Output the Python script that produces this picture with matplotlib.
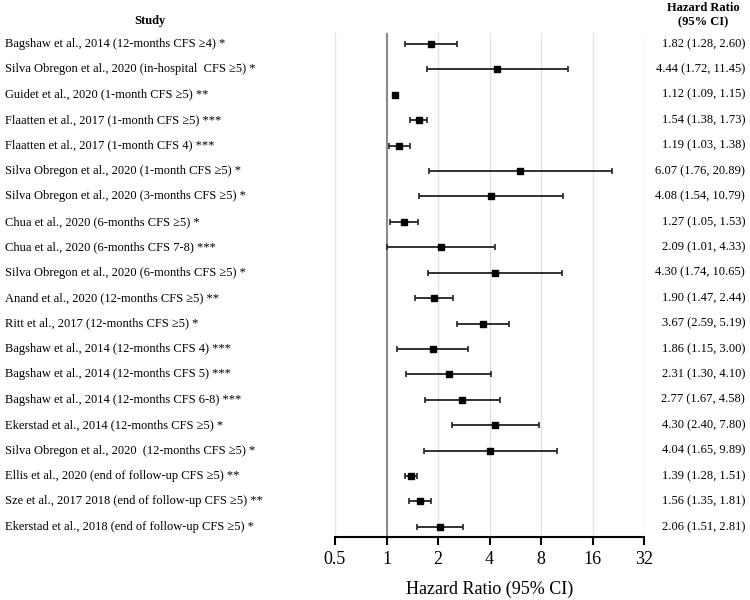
import matplotlib.pyplot as plt
import matplotlib.transforms as mtransforms
import numpy as np

plt.rcParams['font.family'] = ['Liberation Serif', 'DejaVu Serif']

# Data
studies = [
    'Bagshaw et al., 2014 (12-months CFS ≥4) *',
    'Silva Obregon et al., 2020 (in-hospital  CFS ≥5) *',
    'Guidet et al., 2020 (1-month CFS ≥5) **',
    'Flaatten et al., 2017 (1-month CFS ≥5) ***',
    'Flaatten et al., 2017 (1-month CFS 4) ***',
    'Silva Obregon et al., 2020 (1-month CFS ≥5) *',
    'Silva Obregon et al., 2020 (3-months CFS ≥5) *',
    'Chua et al., 2020 (6-months CFS ≥5) *',
    'Chua et al., 2020 (6-months CFS 7-8) ***',
    'Silva Obregon et al., 2020 (6-months CFS ≥5) *',
    'Anand et al., 2020 (12-months CFS ≥5) **',
    'Ritt et al., 2017 (12-months CFS ≥5) *',
    'Bagshaw et al., 2014 (12-months CFS 4) ***',
    'Bagshaw et al., 2014 (12-months CFS 5) ***',
    'Bagshaw et al., 2014 (12-months CFS 6-8) ***',
    'Ekerstad et al., 2014 (12-months CFS ≥5) *',
    'Silva Obregon et al., 2020  (12-months CFS ≥5) *',
    'Ellis et al., 2020 (end of follow-up CFS ≥5) **',
    'Sze et al., 2017 2018 (end of follow-up CFS ≥5) **',
    'Ekerstad et al., 2018 (end of follow-up CFS ≥5) *',
]
hr = [1.82, 4.44, 1.12, 1.54, 1.19, 6.07, 4.08, 1.27, 2.09, 4.30,
      1.90, 3.67, 1.86, 2.31, 2.77, 4.30, 4.04, 1.39, 1.56, 2.06]
ci_low = [1.28, 1.72, 1.09, 1.38, 1.03, 1.76, 1.54, 1.05, 1.01, 1.74,
          1.47, 2.59, 1.15, 1.30, 1.67, 2.40, 1.65, 1.28, 1.35, 1.51]
ci_high = [2.60, 11.45, 1.15, 1.73, 1.38, 20.89, 10.79, 1.53, 4.33, 10.65,
           2.44, 5.19, 3.00, 4.10, 4.58, 7.80, 9.89, 1.51, 1.81, 2.81]
ticks = [0.5, 1, 2, 4, 8, 16, 32]
tick_labels = ['0.5', '1', '2', '4', '8', '16', '32']

hr = np.array(hr)
lo = np.array(ci_low)
hi = np.array(ci_high)
y = np.arange(len(studies))

fig = plt.figure(figsize=(7.5, 6), dpi=100)
ax = fig.add_axes([335 / 750, 63 / 600, 309 / 750, 504 / 600])

ax.set_xscale('log', base=2)
ax.set_xlim(0.5, 32)
ax.set_ylim(len(studies) - 1 + 0.4, -0.43)

# light grid at each tick, darker reference line at HR = 1
for t in ticks:
    if t != 1:
        ax.axvline(t, color='#e3e3e3', lw=1, zorder=0)
ax.axvline(1, color='#8a8a8a', lw=1.5, zorder=1)

ax.errorbar(hr, y, xerr=[hr - lo, hi - hr], fmt='s', color='black',
            ecolor='#222222', elinewidth=1.3, capsize=2.3, capthick=1.2,
            markersize=3.8, zorder=3)

ax.set_xticks(ticks)
ax.set_xticklabels(tick_labels)
ax.xaxis.set_minor_locator(plt.NullLocator())
ax.tick_params(axis='x', direction='out', length=6, width=1.5, labelsize=13, pad=4)
ax.set_yticks([])
for s in ['top', 'left', 'right']:
    ax.spines[s].set_visible(False)
ax.spines['bottom'].set_linewidth(1.5)
ax.set_xlabel('Hazard Ratio (95% CI)', fontsize=13, labelpad=9)

# study names on the left, estimates on the right
trans = mtransforms.blended_transform_factory(fig.transFigure, ax.transData)
for i, name in enumerate(studies):
    fig.text(5 / 750, i, name, transform=trans, ha='left', va='center', fontsize=9)
    fig.text(745 / 750, i, f'{hr[i]:.2f} ({lo[i]:.2f}, {hi[i]:.2f})', transform=trans,
             ha='right', va='center', fontsize=9)

fig.text(150 / 750, 1 - 21 / 600, 'Study', ha='center', va='center',
         fontsize=9, fontweight='bold')
fig.text(703 / 750, 1 - 15 / 600, 'Hazard Ratio\n(95% CI)', ha='center', va='center',
         fontsize=9, fontweight='bold', linespacing=1.25)

plt.savefig('out.png')
